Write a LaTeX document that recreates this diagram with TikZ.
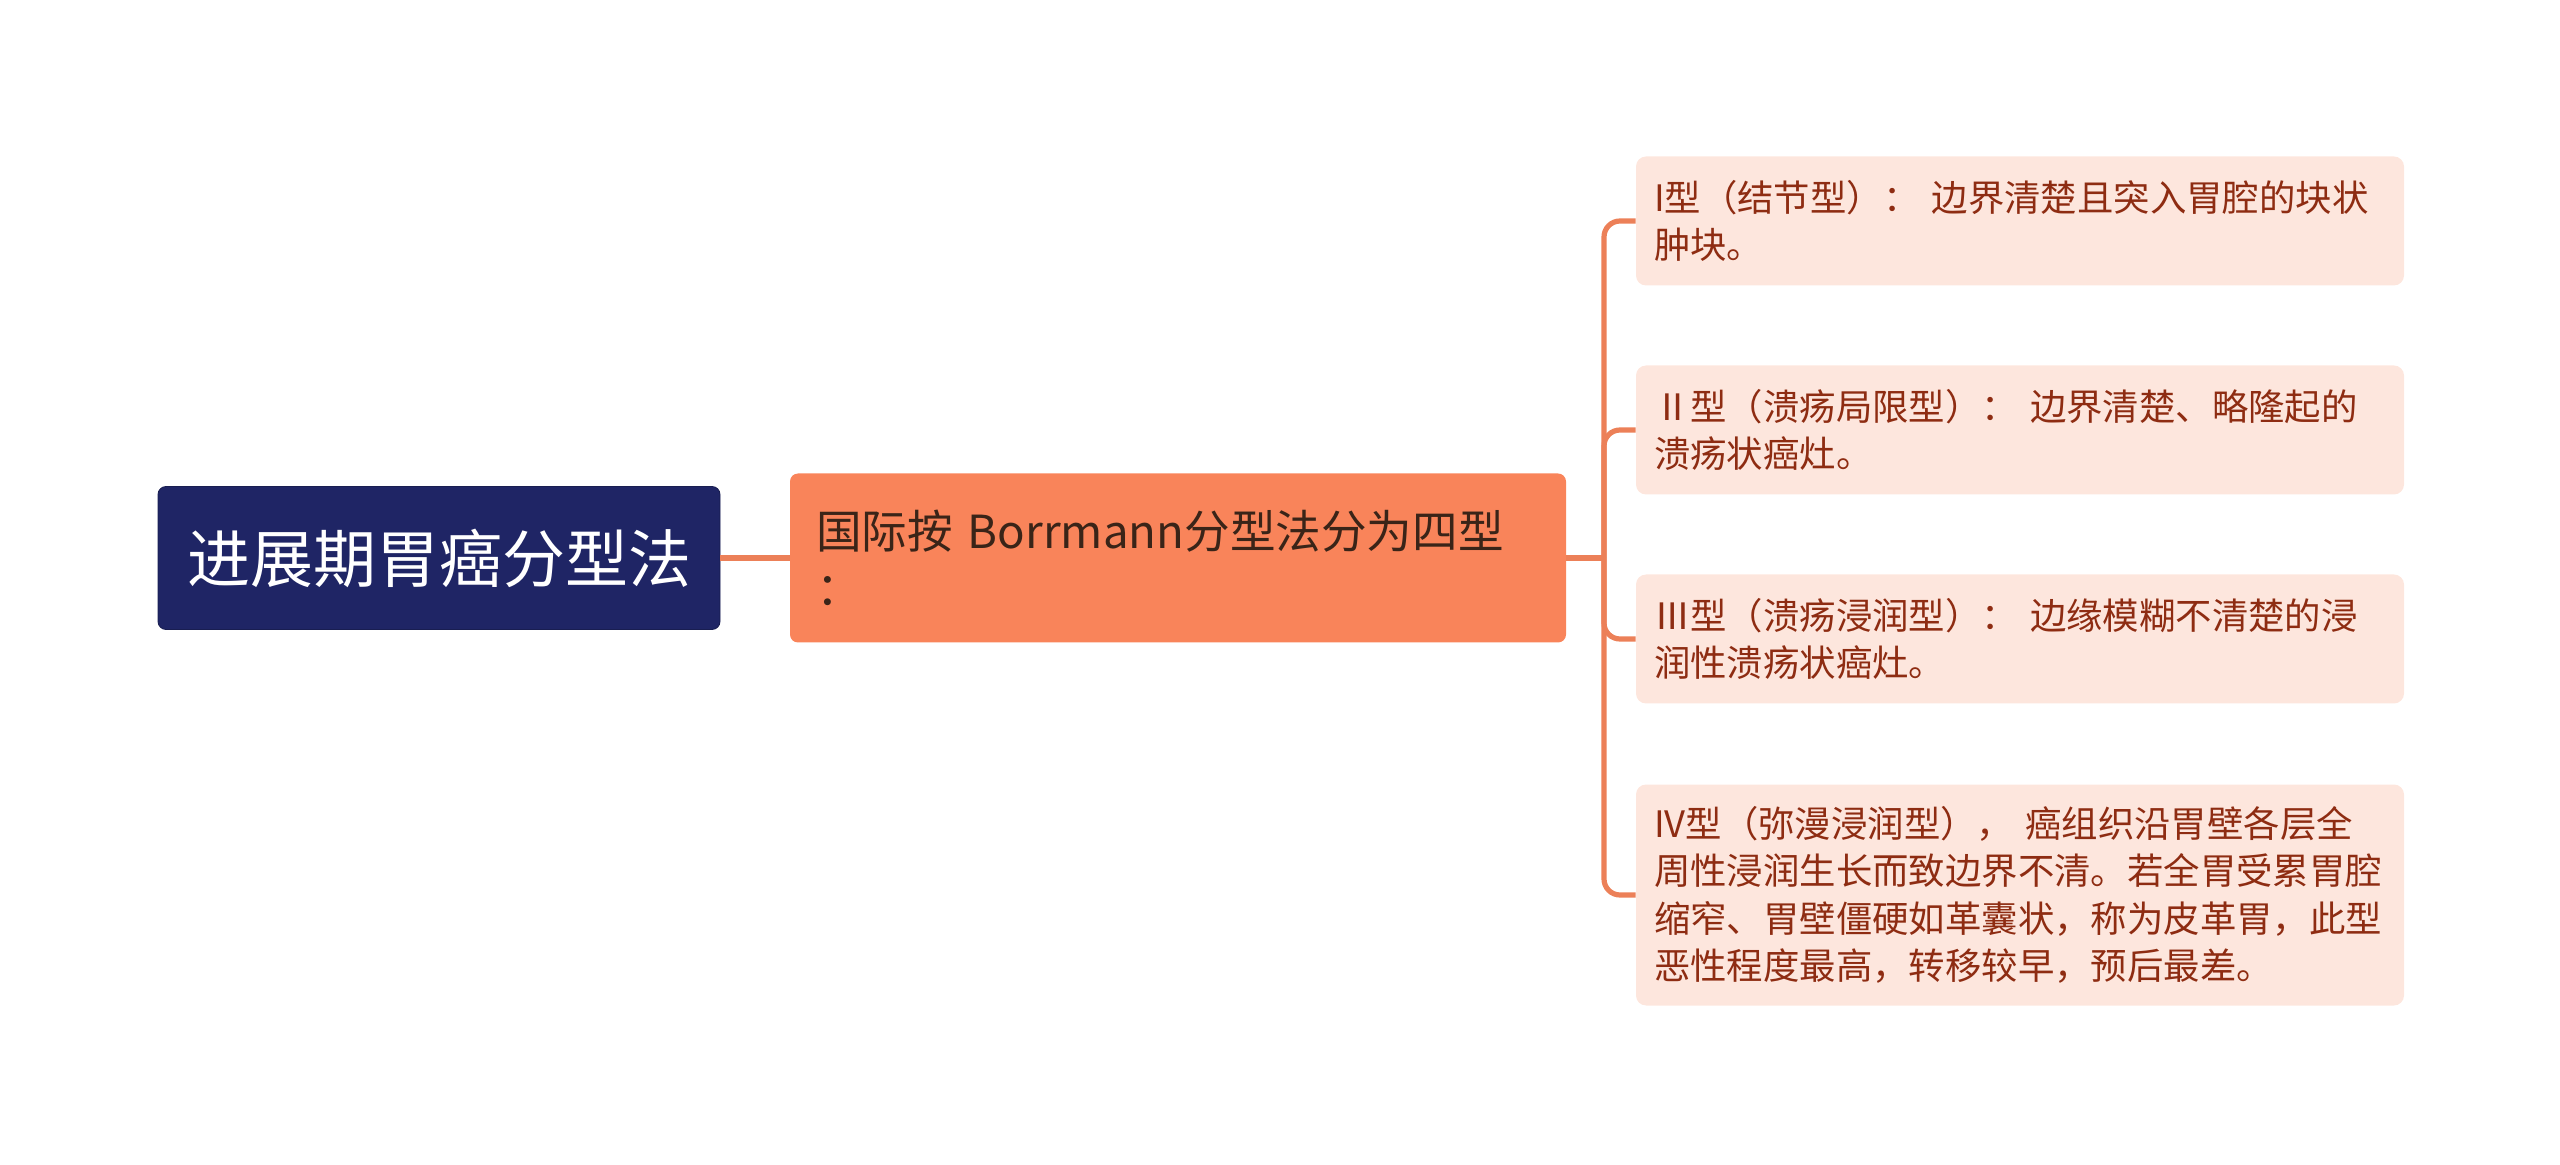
\documentclass[tikz,border=0pt]{standalone}
\usepackage{fontspec}
\setmainfont{Noto Sans CJK SC}
\usetikzlibrary{calc}
\definecolor{rootblue}{HTML}{1F2565}
\definecolor{midorange}{HTML}{F9845A}
\definecolor{midtext}{HTML}{3A2418}
\definecolor{leaffill}{HTML}{FDE6DD}
\definecolor{leaftext}{HTML}{8E2C12}
\definecolor{linkorange}{HTML}{EC8058}

\begin{document}
\begin{tikzpicture}[x=0.5pt,y=-0.5pt,
	root/.style={draw=rootblue!80!black, fill=rootblue, text=white, rounded corners=4pt,
		minimum width=281pt, minimum height=71.5pt, font=\fontsize{31.5}{38}\selectfont},
	midbox/.style={fill=midorange, text=midtext, rounded corners=4pt, align=left,
		text width=362pt, inner xsep=12pt, minimum width=388pt, minimum height=84.5pt,
		font=\fontsize{22.8}{28.5}\selectfont},
	leaf/.style={fill=leaffill, text=leaftext, rounded corners=5pt, align=left,
		text width=366pt, inner xsep=9pt, minimum width=384pt, minimum height=64.5pt,
		font=\fontsize{18.2}{23.7}\selectfont},
	link/.style={linkorange, line width=2.6pt}]
\useasboundingbox (0,0) rectangle (2560,1165);
\node[root] (root) at (439,558) {进展期胃癌分型法};
\node[midbox] (mid) at (1178,558) {国际按 Borrmann分型法分为四型\\：};
\node[leaf] (t1) at (2020,221) {I型（结节型）： 边界清楚且突入胃腔的块状\\肿块。};
\node[leaf] (t2) at (2020,430) {Ⅱ型（溃疡局限型）： 边界清楚、略隆起的\\溃疡状癌灶。};
\node[leaf] (t3) at (2020,639) {Ⅲ型（溃疡浸润型）： 边缘模糊不清楚的浸\\润性溃疡状癌灶。};
\node[leaf, minimum height=110.5pt] (t4) at (2020,895) {IV型（弥漫浸润型）， 癌组织沿胃壁各层全\\周性浸润生长而致边界不清。若全胃受累胃腔\\缩窄、胃壁僵硬如革囊状，称为皮革胃，此型\\恶性程度最高，转移较早，预后最差。};
\coordinate (fork) at (1604,558);
\draw[link] (root) -- (mid);
\draw[link] (mid) -- (fork);
\foreach \t in {t1,t2,t3,t4}{
	\draw[link, rounded corners=8pt] (fork) |- (\t.west);
	}
\end{tikzpicture}
\end{document}
